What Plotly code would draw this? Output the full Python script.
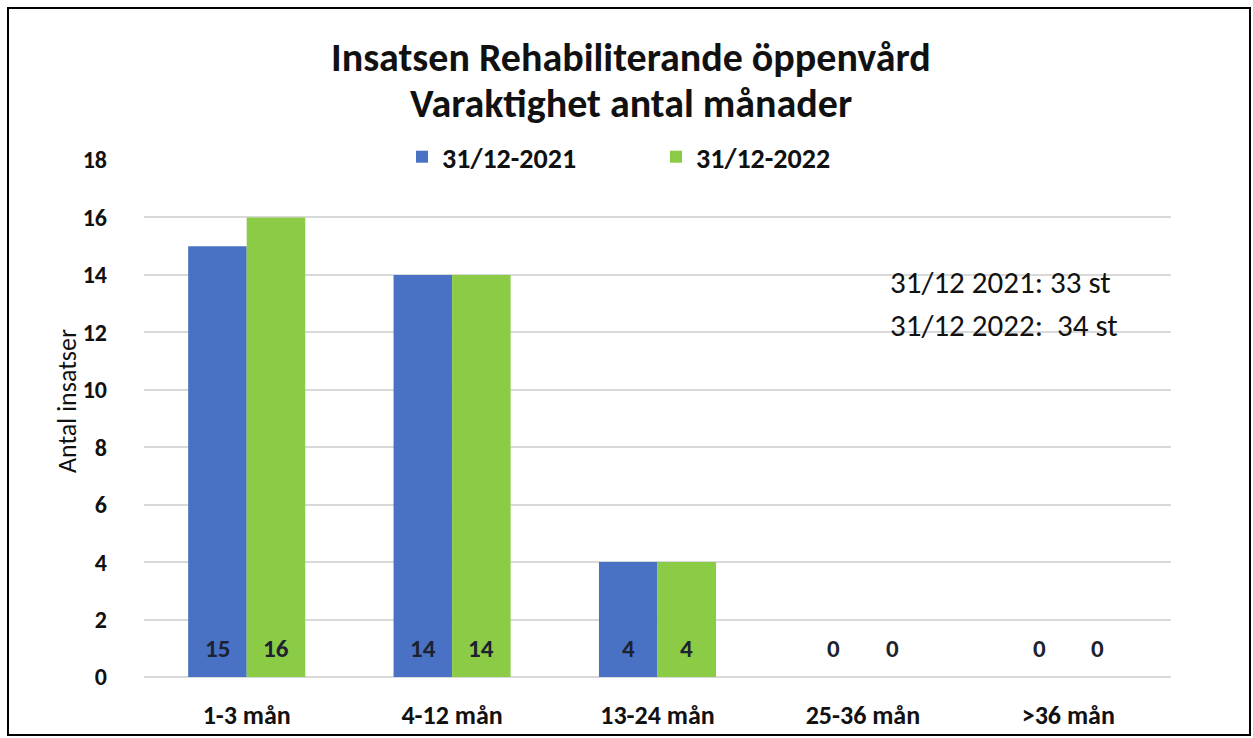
import plotly.graph_objects as go

categories = ["1-3 mån", "4-12 mån", "13-24 mån", "25-36 mån", ">36 mån"]
series_2021 = [15, 14, 4, 0, 0]
series_2022 = [16, 14, 4, 0, 0]
series_names = ["31/12-2021", "31/12-2022"]
y_ticks = [0, 2, 4, 6, 8, 10, 12, 14, 16, 18]
title_lines = ["Insatsen Rehabiliterande öppenvård", "Varaktighet antal månader"]
total_lines = ["31/12 2021: 33 st", "31/12 2022:  34 st"]
y_title = "Antal insatser"

FONT = "Carlito, Lato, Liberation Sans, sans-serif"
W, H = 1253, 738
ML, MR, MT, MB = 144, 82, 160, 61
PW, PH = W - ML - MR, H - MT - MB


def px_x(px):
    return (px - ML) / PW


def px_y(py):
    return (H - MB - py) / PH


fig = go.Figure()
fig.add_trace(go.Bar(x=categories, y=series_2021, name="<b>" + series_names[0] + "</b>",
                     marker=dict(color="#4A72C4", line=dict(width=0))))
fig.add_trace(go.Bar(x=categories, y=series_2022, name="<b>" + series_names[1] + "</b>",
                     marker=dict(color="#8CCB46", line=dict(width=0))))

annotations = []
bar_px = PW / len(categories) * (1 - 0.43) / 2
for vals, shift in ((series_2021, -bar_px / 2), (series_2022, bar_px / 2)):
    for c, v in zip(categories, vals):
        annotations.append(dict(x=c, y=1, xref="x", yref="y", text=f"<b>{v}</b>",
                                showarrow=False, xshift=shift,
                                font=dict(family=FONT, size=25, color="#1c2230")))

for line, py in zip(title_lines, (57, 103)):
    annotations.append(dict(x=px_x(631), xref="paper", y=px_y(py), yref="paper",
                            yanchor="middle", text="<b>" + line + "</b>", showarrow=False,
                            font=dict(family=FONT, size=40, color="#111")))
for line, py in zip(total_lines, (282, 325)):
    annotations.append(dict(x=px_x(888), xref="paper", xanchor="left",
                            y=px_y(py), yref="paper", yanchor="middle",
                            text=line, showarrow=False,
                            font=dict(family=FONT, size=31, color="#111")))
annotations.append(dict(x=px_x(67), xref="paper", y=px_y(401), yref="paper",
                        xanchor="center", yanchor="middle", textangle=-90,
                        text=y_title, showarrow=False,
                        font=dict(family=FONT, size=26, color="#111")))

fig.update_layout(
    width=W, height=H,
    margin=dict(l=ML, r=MR, t=MT, b=MB, autoexpand=False),
    paper_bgcolor="white", plot_bgcolor="white",
    barmode="group", bargap=0.43, bargroupgap=0,
    font=dict(family=FONT, size=18, color="#111"),
    legend=dict(orientation="h", x=px_x(402), xanchor="left",
                y=px_y(157), yanchor="middle",
                entrywidth=209, entrywidthmode="pixels",
                font=dict(family=FONT, size=28, color="#111"),
                bgcolor="rgba(0,0,0,0)", itemwidth=30),
    annotations=annotations,
    shapes=[dict(type="rect", xref="paper", yref="paper",
                 x0=px_x(8), x1=px_x(1250),
                 y0=px_y(735), y1=px_y(8),
                 line=dict(color="black", width=2))],
    showlegend=True,
)
fig.update_yaxes(range=[0, 18], tickvals=y_ticks, ticktext=[f"<b>{t}</b>" for t in y_ticks],
                 showgrid=True, gridcolor="#D9D9D9", gridwidth=1.5,
                 zeroline=True, zerolinecolor="#D9D9D9", zerolinewidth=1.5,
                 showline=False, ticks="", ticklabelstandoff=36, automargin=False,
                 tickfont=dict(family=FONT, size=24, color="#111"))
fig.update_xaxes(showgrid=False, showline=False, ticks="", automargin=False,
                 tickvals=categories, ticktext=[f"<b>{c}</b>" for c in categories],
                 ticklabelstandoff=20,
                 tickfont=dict(family=FONT, size=26, color="#111"))

fig.write_html("out.html", config={"displayModeBar": False},
               post_script=["document.body.style.margin='0';"])
